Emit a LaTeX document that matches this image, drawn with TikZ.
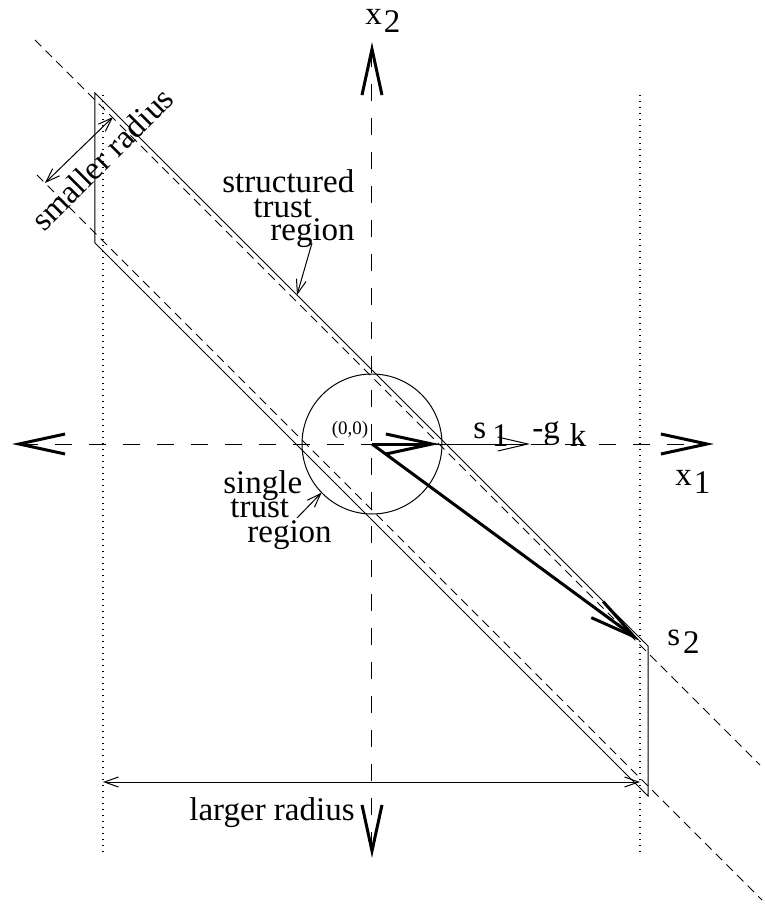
\documentclass[tikz,border=0pt]{standalone}
\usepackage{fontspec}
\setmainfont{Liberation Serif}
\usetikzlibrary{arrows.meta}
\newcommand{\sublab}[3][1pt]{#2\kern#1\raisebox{-4pt}{#3}}

\begin{document}
\begin{tikzpicture}[x=5pt, y=5pt, font=\fontsize{16.5}{19}\selectfont,
    bighead/.tip={Straight Barb[length=23pt,width=10pt,line width=1.5pt]},
    thinhead/.tip={Straight Barb[length=7pt,width=5pt,line width=0.5pt]},
    axis/.style={line width=0.5pt, dash pattern=on 8.5pt off 8.5pt},
    band/.style={line width=0.5pt, dash pattern=on 4.5pt off 3pt},
    guide/.style={line width=0.6pt, dash pattern=on 0.6pt off 2.4pt},
    stepvec/.style={line width=1.5pt, -bighead},
    note/.style={line width=0.5pt},
    lbl/.style={inner sep=0pt, anchor=base west}]
  \useasboundingbox (-37.2,-47.2) rectangle (39.3,44.4);
  \coordinate (O) at (0,0);

  % axes
  \draw[axis, bighead-bighead] (-36,0) -- (34.2,0);
  \draw[axis, bighead-bighead] (0,-41.4) -- (0,40.2);
  \node[lbl] (xtwo) at (-0.7,41.9) {\sublab{x}{2}};
  \node[lbl] (xone) at (30.3,-4.1) {\sublab{x}{1}};

  % vertical limits
  \coordinate (limLtop) at (-26.9,34.9);
  \coordinate (limLbot) at (-26.9,-40.8);
  \coordinate (limRtop) at (26.8,34.9);
  \coordinate (limRbot) at (26.8,-40.8);
  \draw[guide] (limLtop) -- (limLbot);
  \draw[guide] (limRtop) -- (limRbot);

  % structured trust region (band) and single trust region (circle)
  \draw[note] (-27.7,35.1) -- (27.6,-20.2) -- (27.6,-35.2) -- (-27.7,20.1) -- cycle;
  \draw[band] (-33.7,40.4) -- (38.8,-32.1);
  \draw[band] (-33.5,26.9) -- (39,-45.6);
  \draw[note] (O) circle (7);

  % steps
  \draw[stepvec] (O) -- (6.7,0) coordinate (sone);
  \draw[note, -{Straight Barb[length=15pt,width=7pt,line width=0.5pt]}] (sone) -- (15.8,0) coordinate (gk);
  \draw[stepvec] (O) -- (26.8,-19.7) coordinate (stwo);

  \node[inner sep=0pt, font=\fontsize{9.5}{11}\selectfont] (orig) at (-2.2,1.4) {(0,0)};
  \node[lbl] (sonelab) at (10.1,0.6) {\sublab[3pt]{s}{1}};
  \node[lbl] (gklab) at (16.0,0.6) {\sublab[5pt]{-g}{k}};
  \node[lbl] (stwolab) at (29.5,-20.1) {\sublab[1.5pt]{s}{2}};

  % labels of the regions
  \node[lbl] (struct1) at (-15.0,25.1) {structured};
  \node[lbl] (struct2) at (-11.9,22.7) {trust};
  \node[lbl] (struct3) at (-10.2,20.4) {region};
  \coordinate (structend) at (-7.5,14.9);
  \draw[note, -thinhead] ([shift={(4.2,-0.3)}]struct3.base west) -- (structend);

  \node[lbl] (single1) at (-14.9,-4.9) {single};
  \node[lbl] (single2) at (-14.2,-7.3) {trust};
  \node[lbl] (single3) at (-12.5,-9.8) {region};
  \coordinate (singleend) at (224:7);
  \draw[note, -thinhead] ([shift={(6.7,-0.1)}]single2.base west) -- (singleend);

  % radii
  \coordinate (smallA) at (-32.7,26.1);
  \coordinate (smallB) at (-25.9,32.7);
  \draw[note, thinhead-thinhead] (smallA) -- (smallB);
  \node[inner sep=0pt, anchor=base, rotate=45] (smalllab) at (-26.2,27.7) {smaller radius};

  \coordinate (largeA) at (-26.9,-33.8);
  \coordinate (largeB) at (26.8,-33.8);
  \draw[note, thinhead-thinhead] (largeA) -- (largeB);
  \node[lbl] (largelab) at (-18.3,-37.6) {larger radius};
\end{tikzpicture}
\end{document}
